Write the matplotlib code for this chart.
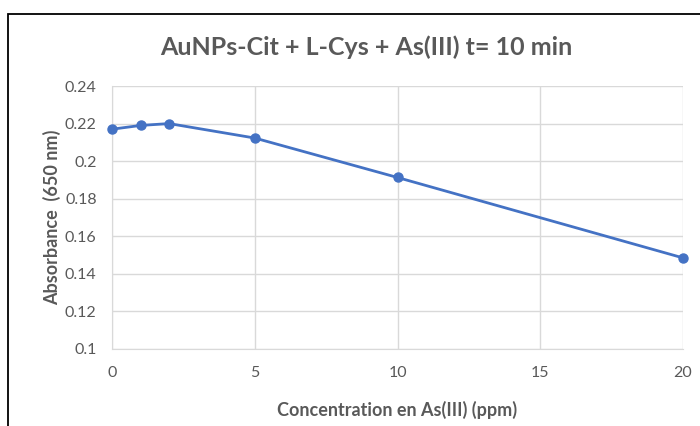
import matplotlib
matplotlib.use("Agg")
import matplotlib.pyplot as plt
from matplotlib.patches import Rectangle

conc = [0, 1, 2, 5, 10, 20]
absorb = [0.217, 0.219, 0.220, 0.2123, 0.1913, 0.1485]
xticks = [0, 5, 10, 15, 20]
yticks = [0.1, 0.12, 0.14, 0.16, 0.18, 0.2, 0.22, 0.24]
ytick_labels = ["0.1", "0.12", "0.14", "0.16", "0.18", "0.2", "0.22", "0.24"]

plt.rcParams['font.family'] = ['Lato', 'DejaVu Sans']
grey = '#595959'

fig = plt.figure(figsize=(7, 4.26), dpi=100)
W, H = 700, 426
ax = fig.add_axes([112 / W, 1 - 349 / H, (683 - 112) / W, (349 - 86) / H])

# outer chart frame (only left & top visible in the crop)
fig.patches.append(Rectangle((8 / W, -0.1), 1.2, 1 - 14 / H + 0.1, transform=fig.transFigure,
                             fill=False, edgecolor='black', linewidth=1.3))

ax.plot(conc, absorb, color='#4472C4', linewidth=2, marker='o', markersize=6.5, clip_on=False, zorder=3)

ax.set_xlim(0, 20)
ax.set_ylim(0.1, 0.24)
ax.set_xticks(xticks)
ax.set_yticks(yticks)
ax.set_yticklabels(ytick_labels)
ax.grid(True, color='#D9D9D9', linewidth=1)
ax.set_axisbelow(True)
for s in ax.spines.values():
    s.set_visible(False)
ax.spines['left'].set_visible(True)
ax.spines['bottom'].set_visible(True)
ax.spines['left'].set_color('#D9D9D9')
ax.spines['bottom'].set_color('#D9D9D9')
ax.tick_params(length=0, labelsize=11.5, colors=grey, pad=12)
ax.tick_params(axis='y', pad=11)

ax.set_xlabel('Concentration en As(III) (ppm)', fontsize=13, fontweight='bold', color=grey, labelpad=15)
ax.set_ylabel('Absorbance  (650 nm)', fontsize=13, fontweight='bold', color=grey, labelpad=3)
fig.text(366 / W, 1 - 47 / H, 'AuNPs-Cit + L-Cys + As(III) t= 10 min', ha='center', va='center',
         fontsize=18, fontweight='bold', color=grey)

fig.savefig('out.png', dpi=100)
